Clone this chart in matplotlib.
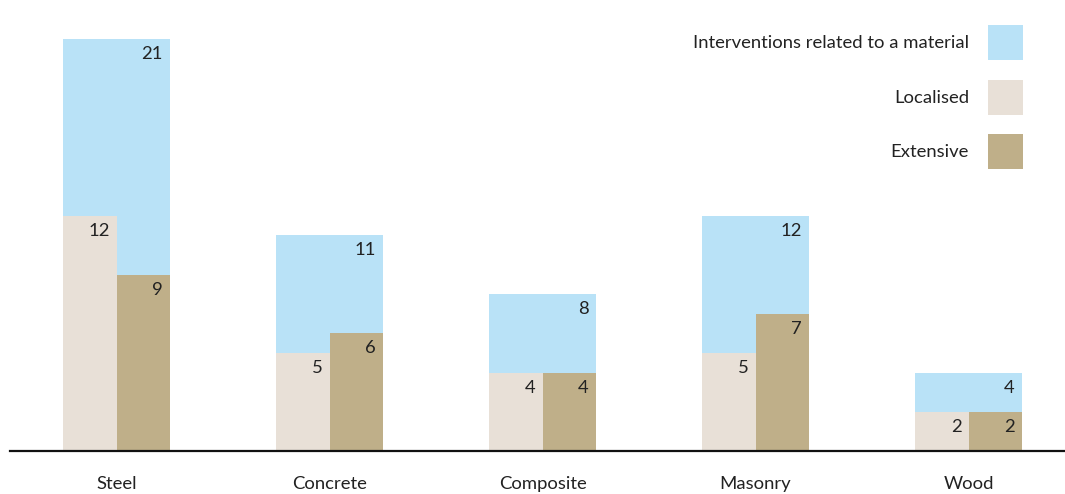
import matplotlib.pyplot as plt
import numpy as np

# values
materials = ['Steel', 'Concrete', 'Composite', 'Masonry', 'Wood']
interventions = [21, 11, 8, 12, 4]
localised = [12, 5, 4, 5, 2]
extensive = [9, 6, 4, 7, 2]

c_total = '#b9e2f7'
c_local = '#e8e0d7'
c_ext = '#bfaf89'
txt = '#222222'

plt.rcParams['font.family'] = ['Lato', 'DejaVu Sans']
plt.rcParams['font.size'] = 13

fig = plt.figure(figsize=(10.65, 4.94), dpi=100)
# axes placed in pixels so bars line up with the reference
ax = fig.add_axes([10 / 1065, 43 / 494, 1055 / 1065, 451 / 494])
ax.set_xlim(-0.5, 4.453)
ax.set_ylim(0, 451 / 19.6)

x = np.arange(len(materials))
b_tot = ax.bar(x, interventions, width=0.5, color=c_total,
               label='Interventions related to a material', zorder=1)
b_loc = ax.bar(x - 0.125, localised, width=0.25, color=c_local,
               label='Localised', zorder=2)
b_ext = ax.bar(x + 0.125, extensive, width=0.25, color=c_ext,
               label='Extensive', zorder=2)

# value labels sit inside the top right corner of each bar
for bars in (b_tot, b_loc, b_ext):
    for r in bars:
        h = r.get_height()
        ax.annotate(str(h), (r.get_x() + r.get_width(), h),
                    xytext=(-5, -5), textcoords='offset points',
                    ha='right', va='top', fontsize=13.3, color=txt, zorder=3)

for s in ['top', 'right', 'left']:
    ax.spines[s].set_visible(False)
ax.spines['bottom'].set_linewidth(1.6)
ax.spines['bottom'].set_color('#111111')
ax.set_yticks([])
ax.set_xticks(x)
ax.set_xticklabels(materials, color=txt)
ax.tick_params(axis='x', length=0, pad=18, labelsize=13.3)

ax.legend(handles=[b_tot, b_loc, b_ext], loc='upper right',
          bbox_to_anchor=(1023 / 1065, 1 - 25 / 494),
          bbox_transform=fig.transFigure, frameon=False,
          markerfirst=False, borderpad=0, borderaxespad=0,
          handlelength=1.92, handleheight=2.55, handletextpad=1.0,
          labelspacing=1.05, fontsize=13.3, labelcolor=txt)

fig.savefig('out.png', dpi=100)
